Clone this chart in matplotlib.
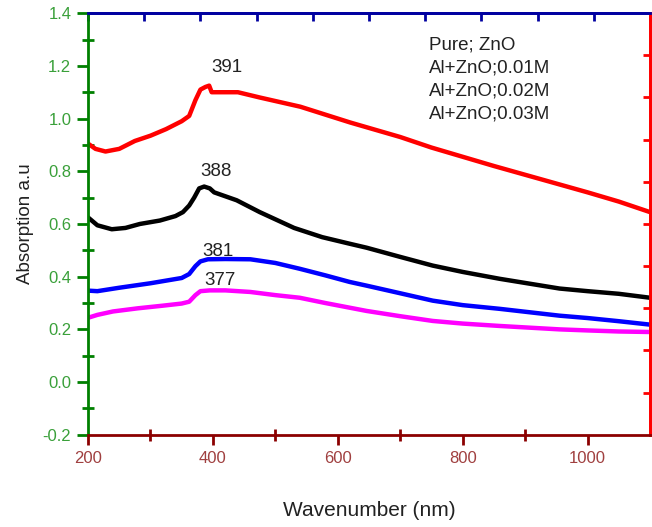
import numpy as np
import matplotlib
matplotlib.use('Agg')
import matplotlib.pyplot as plt

plt.rcParams['font.family'] = ['Liberation Sans', 'DejaVu Sans']

# absorption spectra
x_zno = [200, 212, 228, 250, 275, 300, 325, 350, 362, 372, 380, 388, 394, 398, 402, 420, 440,
         475, 540, 620, 700, 750, 850, 955, 1000, 1050, 1100]
y_zno = [0.905, 0.885, 0.875, 0.885, 0.915, 0.935, 0.96, 0.99, 1.01, 1.07, 1.11, 1.12, 1.125, 1.10,
         1.10, 1.10, 1.10, 1.08, 1.045, 0.985, 0.93, 0.89, 0.82, 0.75, 0.72, 0.685, 0.645]

x_01 = [200, 215, 238, 260, 283, 315, 340, 352, 362, 370, 378, 386, 395, 402, 438, 475, 530,
        575, 619, 646, 700, 752, 800, 859, 955, 1000, 1050, 1100]
y_01 = [0.625, 0.595, 0.58, 0.585, 0.60, 0.613, 0.63, 0.645, 0.67, 0.70, 0.735, 0.742, 0.735,
        0.72, 0.69, 0.645, 0.585, 0.55, 0.525, 0.51, 0.475, 0.442, 0.418, 0.392, 0.355, 0.345,
        0.335, 0.32]

x_02 = [200, 215, 250, 300, 350, 362, 372, 380, 392, 420, 460, 500, 539, 580, 619, 646, 700,
        752, 800, 859, 955, 1000, 1050, 1100]
y_02 = [0.347, 0.345, 0.358, 0.375, 0.395, 0.41, 0.44, 0.458, 0.466, 0.467, 0.466, 0.452, 0.43,
        0.405, 0.38, 0.366, 0.337, 0.309, 0.292, 0.278, 0.252, 0.243, 0.231, 0.218]

x_03 = [200, 215, 240, 280, 320, 350, 362, 372, 380, 395, 420, 460, 500, 539, 580, 646, 700,
        752, 800, 859, 955, 1000, 1050, 1100]
y_03 = [0.244, 0.255, 0.268, 0.28, 0.29, 0.298, 0.305, 0.33, 0.345, 0.348, 0.348, 0.342, 0.33,
        0.32, 0.30, 0.27, 0.25, 0.232, 0.222, 0.213, 0.2, 0.196, 0.192, 0.19]

peak_labels = ['391', '388', '381', '377']
peak_pos = [(422, 1.195), (405, 0.80), (408, 0.495), (411, 0.385)]
legend_labels = ['Pure; ZnO', 'Al+ZnO;0.01M', 'Al+ZnO;0.02M', 'Al+ZnO;0.03M']

fig = plt.figure(figsize=(6.52, 5.27), dpi=100)
ax = fig.add_axes([0.135, 0.175, 0.862, 0.8])

ax.plot(x_zno, y_zno, color='#ff0000', lw=3.2, solid_joinstyle='round')
ax.plot(x_01, y_01, color='#000000', lw=3.2, solid_joinstyle='round')
ax.plot(x_02, y_02, color='#0000ff', lw=3.2, solid_joinstyle='round')
ax.plot(x_03, y_03, color='#ff00ff', lw=3.2, solid_joinstyle='round')

for lab, (px, py) in zip(peak_labels, peak_pos):
    ax.text(px, py, lab, fontsize=13.5, color='#222222', ha='center', va='center')

for i, lab in enumerate(legend_labels):
    ax.text(0.606, 0.925 - i * 0.055, lab, transform=ax.transAxes, fontsize=13.5,
            color='#222222', ha='left', va='center')

ax.set_xlim(200, 1100)
ax.set_ylim(-0.2, 1.4)

green = '#008000'
dred = '#8b0000'
navy = '#0000a0'

ax.set_xticks([200, 400, 600, 800, 1000])
ax.set_xticks([300, 500, 700, 900], minor=True)
ax.set_yticks(np.arange(-0.2, 1.41, 0.2))
ax.set_yticks(np.arange(-0.1, 1.4, 0.2), minor=True)
ax.set_yticklabels([f'{v:.1f}' for v in np.arange(-0.2, 1.41, 0.2)])

ax.tick_params(axis='x', which='major', direction='out', length=7, width=2, color=dred,
               labelcolor='#a04040', labelsize=12, pad=5)
ax.tick_params(axis='x', which='minor', direction='inout', length=8, width=2, color=dred)
ax.tick_params(axis='y', which='major', direction='out', length=8, width=2, color=green,
               labelcolor='#3aa03a', labelsize=12, pad=4)
ax.tick_params(axis='y', which='minor', direction='inout', length=8, width=2, color=green)

ax.spines['left'].set_color(green)
ax.spines['bottom'].set_color(dred)
ax.spines['top'].set_color(navy)
ax.spines['right'].set_color('#ff0000')
for s in ax.spines.values():
    s.set_linewidth(2)

top = ax.secondary_xaxis('top')
top.set_xticks(np.linspace(200, 1100, 11))
top.tick_params(direction='in', length=6, width=2, color=navy, labeltop=False)
top.spines['top'].set_color(navy)
top.spines['top'].set_linewidth(2)

right = ax.secondary_yaxis('right')
right.set_yticks([-0.2 + 0.16 * k for k in range(1, 10)])
right.tick_params(direction='in', length=5, width=2, color='#ff0000', labelright=False)
right.spines['right'].set_color('#ff0000')
right.spines['right'].set_linewidth(2)

ax.set_xlabel('Wavenumber (nm)', fontsize=15, color='#222222', labelpad=25)
ax.set_ylabel('Absorption a.u', fontsize=13.5, color='#222222', labelpad=6)

fig.savefig('out.png', dpi=100)
